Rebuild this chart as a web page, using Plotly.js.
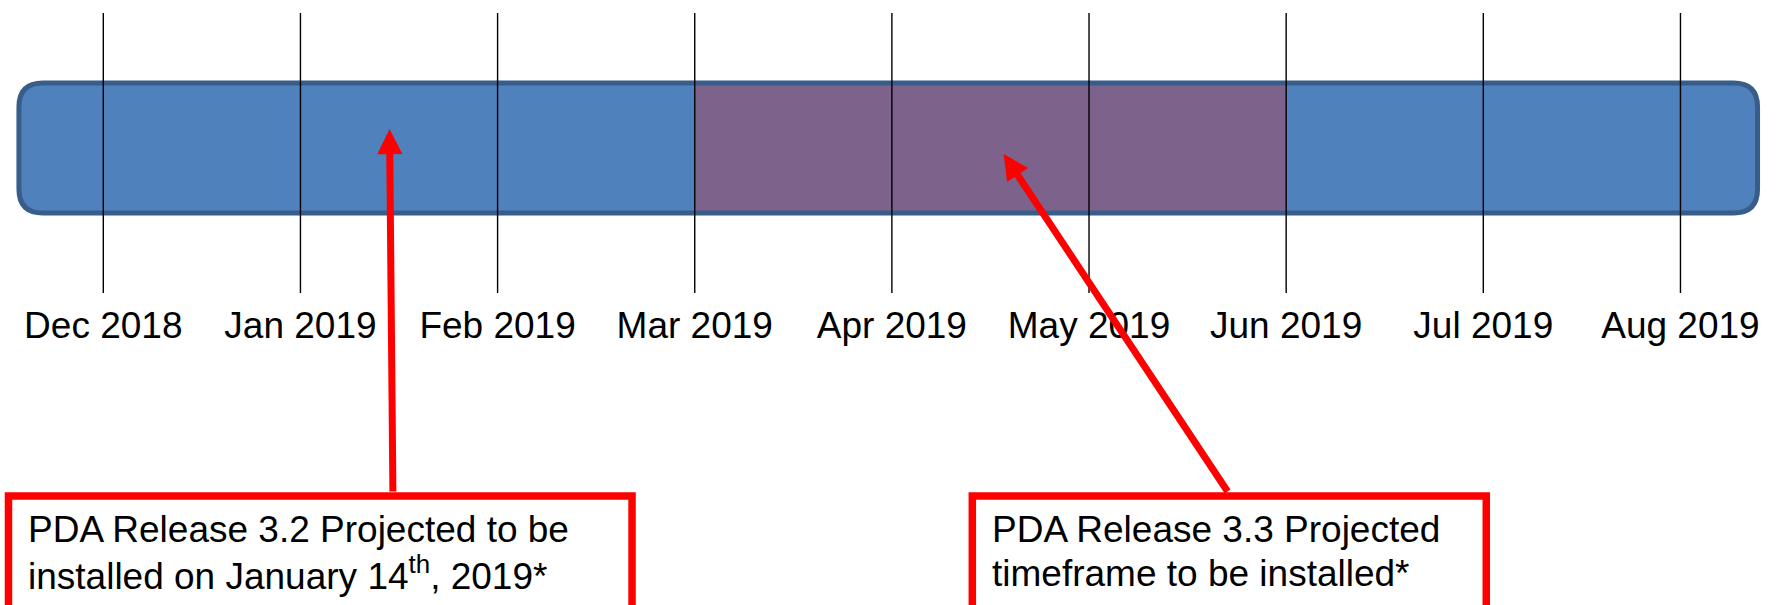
<!DOCTYPE html>
<html>
<head>
<meta charset="utf-8">
<script src="https://cdn.plot.ly/plotly-3.0.1.min.js"></script>
<style>
html,body{margin:0;padding:0;background:#ffffff;overflow:hidden}
#chart{width:1781px;height:605px}
</style>
</head>
<body>
<div id="chart"></div>
<script>
// ---- data (x in months after Dec 2018) ----
const monthLabels = ['Dec 2018','Jan 2019','Feb 2019','Mar 2019','Apr 2019','May 2019','Jun 2019','Jul 2019','Aug 2019'];
const monthIndex = [0,1,2,3,4,5,6,7,8];
const timelineSpan = [-0.428, 8.391];      // extent of the timeline bar
const release33Window = [3, 6];            // Mar 2019 -> Jun 2019
const release32Point = 1.452;              // ~ January 14th, 2019
const release33Point = 4.567;              // inside the 3.3 window
const note32Lines = ['PDA Release 3.2 Projected to be', 'installed on January 14<sup>th</sup>, 2019*'];
const note33Lines = ['PDA Release 3.3 Projected', 'timeframe to be installed*'];

// ---- styling / geometry ----
const FONT = '"Liberation Sans", Arial, sans-serif';
const W = 1781, H = 605;
const xRange = [-0.524, 8.510];
const pxPerMonth = W / (xRange[1] - xRange[0]);
const barTop = 83, barBottom = 213;
const lineTop = 13, lineBottom = 293;
const labelY = 329;
const boxTop = 496;
const cornerPx = 24;

function roundedPath(x0, x1, y0, y1, rx, ry) {
  return `M${x0+rx},${y0} L${x1-rx},${y0} Q${x1},${y0} ${x1},${y0+ry} L${x1},${y1-ry} Q${x1},${y1} ${x1-rx},${y1} ` +
         `L${x0+rx},${y1} Q${x0},${y1} ${x0},${y1-ry} L${x0},${y0+ry} Q${x0},${y0} ${x0+rx},${y0} Z`;
}
const rx = cornerPx / pxPerMonth;
const barPath = roundedPath(timelineSpan[0], timelineSpan[1], barTop, barBottom, rx, cornerPx);

// vertical month lines
const lx = [], ly = [];
monthIndex.forEach(i => { lx.push(i, i, null); ly.push(lineTop, lineBottom, null); });

const traces = [
  {
    type: 'scatter', mode: 'lines', x: lx, y: ly,
    line: {color: '#000000', width: 1.4}, hoverinfo: 'skip', showlegend: false
  },
  {
    type: 'scatter', mode: 'text', x: monthIndex, y: monthIndex.map(() => labelY),
    text: monthLabels, textposition: 'middle center',
    textfont: {family: FONT, size: 37, color: '#000000'},
    cliponaxis: false, hoverinfo: 'skip', showlegend: false
  }
];

const shapes = [
  {type: 'path', xref: 'x', yref: 'y', path: barPath, fillcolor: '#4F81BD', line: {width: 0}, layer: 'below'},
  {type: 'rect', xref: 'x', yref: 'y', x0: release33Window[0], x1: release33Window[1], y0: barTop + 2, y1: barBottom - 2,
   fillcolor: '#7D628C', line: {width: 0}, layer: 'below'},
  {type: 'path', xref: 'x', yref: 'y', path: barPath, fillcolor: 'rgba(0,0,0,0)', line: {color: '#385D8A', width: 5}, layer: 'below'},
  {type: 'rect', xref: 'x', yref: 'y', x0: -0.481, x1: 2.682, y0: boxTop, y1: 640,
   fillcolor: '#ffffff', line: {color: '#FF0000', width: 7.5}, layer: 'above'},
  {type: 'rect', xref: 'x', yref: 'y', x0: 4.408, x1: 7.015, y0: boxTop, y1: 640,
   fillcolor: '#ffffff', line: {color: '#FF0000', width: 7.5}, layer: 'above'}
];

const textFont = {family: FONT, size: 37, color: '#000000'};
const annotations = [
  {x: release32Point, y: 129, ax: 1.469, ay: boxTop - 3, xref: 'x', yref: 'y', axref: 'x', ayref: 'y',
   text: '', showarrow: true, arrowhead: 2, arrowsize: 0.72, arrowwidth: 7, arrowcolor: '#FF0000', standoff: 0},
  {x: release33Point, y: 154, ax: 5.708, ay: boxTop - 3, xref: 'x', yref: 'y', axref: 'x', ayref: 'y',
   text: '', showarrow: true, arrowhead: 2, arrowsize: 0.72, arrowwidth: 7, arrowcolor: '#FF0000', standoff: 0},
  {x: -0.39, y: 529, xref: 'x', yref: 'y', xanchor: 'left', yanchor: 'middle', text: note32Lines[0], showarrow: false, font: textFont},
  {x: -0.39, y: 573, xref: 'x', yref: 'y', xanchor: 'left', yanchor: 'middle', text: note32Lines[1], showarrow: false, font: textFont},
  {x: 4.497, y: 529, xref: 'x', yref: 'y', xanchor: 'left', yanchor: 'middle', text: note33Lines[0], showarrow: false, font: textFont},
  {x: 4.497, y: 573, xref: 'x', yref: 'y', xanchor: 'left', yanchor: 'middle', text: note33Lines[1], showarrow: false, font: textFont}
];

const layout = {
  width: W, height: H,
  margin: {l: 0, r: 0, t: 0, b: 0, pad: 0},
  paper_bgcolor: '#ffffff', plot_bgcolor: '#ffffff',
  showlegend: false,
  xaxis: {range: xRange, visible: false, fixedrange: true},
  yaxis: {range: [H, 0], visible: false, fixedrange: true},
  shapes: shapes,
  annotations: annotations,
  font: {family: FONT}
};

Plotly.newPlot('chart', traces, layout, {staticPlot: true, displayModeBar: false});
</script>
</body>
</html>
